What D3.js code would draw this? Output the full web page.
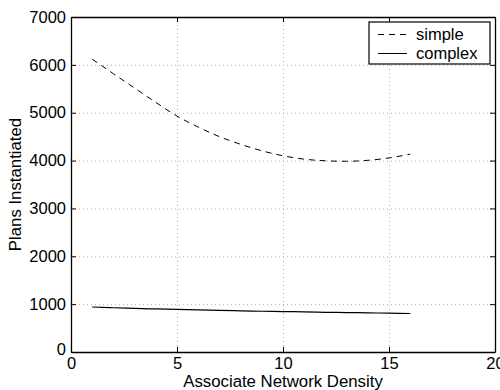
<!DOCTYPE html>
<html>
<head>
<meta charset="utf-8">
<script src="https://cdn.jsdelivr.net/npm/d3@7"></script>
<style>
  body { margin: 0; background: #fff; }
  svg { display: block; font-family: 'Liberation Sans', Arial, Helvetica, sans-serif; }
  .grid line { stroke: #b0b0b0; stroke-width: 1; stroke-dasharray: 1,3; }
</style>
</head>
<body>
<div id="chart"></div>
<script>
// densities on the x axis
const density = [1, 2, 3, 4, 5, 6, 7, 8, 9, 10, 11, 12, 13, 14, 15, 16];
// plans instantiated
const simpleValues = [6120, 5815, 5515, 5215, 4930, 4700, 4500, 4340, 4205, 4100, 4030, 3995, 3985, 4005, 4055, 4135];
const complexValues = [940, 925, 912, 900, 890, 880, 870, 860, 852, 845, 838, 830, 824, 818, 812, 805];
const xTicks = [0, 5, 10, 15, 20];
const yTicks = [0, 1000, 2000, 3000, 4000, 5000, 6000, 7000];
const seriesNames = ['simple', 'complex'];

const width = 500;
const height = 390;
const margin = { top: 17, right: 5, bottom: 38, left: 71 };
const contentWidth = width - margin.left - margin.right;
const contentHeight = height - margin.top - margin.bottom;

const svg = d3.select('#chart').append('svg')
  .attr('width', width)
  .attr('height', height);

const g = svg.append('g').attr('transform', 'translate(' + margin.left + ',' + margin.top + ')');

const x = d3.scaleLinear().domain([0, 20]).range([0, contentWidth]);
const y = d3.scaleLinear().domain([0, 7000]).range([contentHeight, 0]);

// grid lines (dotted)
g.append('g').attr('class', 'grid')
  .selectAll('line')
  .data(xTicks.slice(1, -1))
  .enter().append('line')
  .attr('x1', d => x(d) + 0.5).attr('x2', d => x(d) + 0.5)
  .attr('y1', 0).attr('y2', contentHeight);

g.append('g').attr('class', 'grid')
  .selectAll('line')
  .data(yTicks.slice(1, -1))
  .enter().append('line')
  .attr('y1', d => y(d) + 0.5).attr('y2', d => y(d) + 0.5)
  .attr('x1', 0).attr('x2', contentWidth);

// Add X axis (bottom with labels, top with inward ticks only)
const xAxis = g.append('g')
  .attr('transform', 'translate(0,' + contentHeight + ')')
  .call(d3.axisBottom(x).tickValues(xTicks).tickSizeInner(-5).tickSizeOuter(0).tickPadding(5));
g.append('g')
  .call(d3.axisTop(x).tickValues(xTicks).tickSizeInner(-5).tickSizeOuter(0).tickFormat(''));

// Add Y axis
const yAxis = g.append('g')
  .call(d3.axisLeft(y).tickValues(yTicks).tickSizeInner(-5).tickSizeOuter(0).tickPadding(5).tickFormat(d3.format('d')));
g.append('g')
  .attr('transform', 'translate(' + contentWidth + ',0)')
  .call(d3.axisRight(y).tickValues(yTicks).tickSizeInner(-5).tickSizeOuter(0).tickFormat(''));

g.selectAll('.domain').attr('stroke', '#000').attr('stroke-width', 1.3);
g.selectAll('.tick line').attr('stroke', '#000');
g.selectAll('.tick text')
  .attr('fill', '#000')
  .style('font-size', '16.5px');

// the 0 on the y axis sits a bit lower, like in the figure
yAxis.selectAll('.tick text').filter(d => d === 0).attr('dy', '0.15em');

// axis labels
svg.append('text')
  .attr('x', margin.left + contentWidth / 2)
  .attr('y', 387)
  .attr('text-anchor', 'middle')
  .style('font-size', '16.8px')
  .text('Associate Network Density');

svg.append('text')
  .attr('transform', 'translate(21,' + (margin.top + contentHeight / 2) + ') rotate(-90)')
  .attr('text-anchor', 'middle')
  .style('font-size', '16.8px')
  .text('Plans Instantiated');

// lines
const line = d3.line()
  .x((d, i) => x(density[i]))
  .y(d => y(d))
  .curve(d3.curveMonotoneX);

g.append('path')
  .datum(simpleValues)
  .attr('fill', 'none')
  .attr('stroke', '#000')
  .attr('stroke-width', 1)
  .attr('stroke-dasharray', '6,5')
  .attr('d', line);

g.append('path')
  .datum(complexValues)
  .attr('fill', 'none')
  .attr('stroke', '#000')
  .attr('stroke-width', 1.2)
  .attr('d', line);

// legend
const legend = svg.append('g').attr('transform', 'translate(369,22)');
legend.append('rect')
  .attr('width', 121).attr('height', 42)
  .attr('fill', '#fff').attr('stroke', '#000').attr('stroke-width', 1.2);

const dashes = ['6,5', null];
seriesNames.forEach((name, i) => {
  const row = legend.append('g').attr('transform', 'translate(0,' + (12 + i * 19) + ')');
  row.append('line')
    .attr('x1', 9).attr('x2', 38).attr('y1', 0.5).attr('y2', 0.5)
    .attr('stroke', '#000').attr('stroke-width', 1)
    .attr('stroke-dasharray', dashes[i]);
  row.append('text')
    .attr('x', 47).attr('y', 5.5)
    .style('font-size', '16.5px')
    .text(name);
});
</script>
</body>
</html>
